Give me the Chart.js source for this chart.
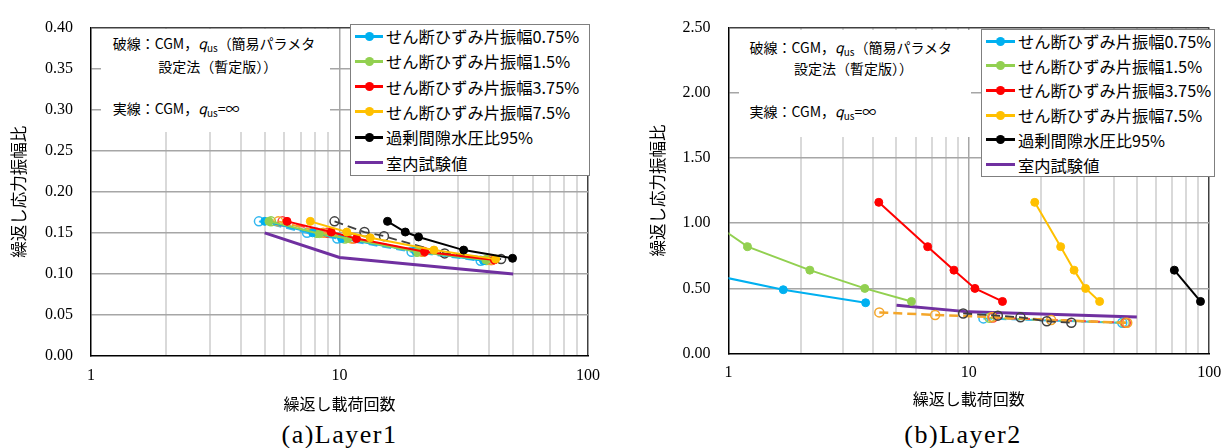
<!DOCTYPE html>
<html><head><meta charset="utf-8">
<script src="https://cdn.jsdelivr.net/npm/chart.js@4.4.1/dist/chart.umd.min.js"></script>
<style>
body{margin:0;background:#fff;width:1231px;height:448px;overflow:hidden;position:relative;font-family:"Noto Sans CJK JP","Noto Sans",sans-serif;color:#000;}
canvas{position:absolute;top:0;}
.note{position:absolute;background:#fff;z-index:2;}
.note div{position:absolute;white-space:nowrap;font-size:14px;line-height:14px;}
.note sub{font-size:10px;line-height:0;vertical-align:-3px;}
.note i{font-style:italic;}
.leg{position:absolute;background:#fff;border:1.5px solid #7f7f7f;box-sizing:border-box;z-index:2;}
.row{position:absolute;left:0;height:20px;display:flex;align-items:center;white-space:nowrap;font-size:16.3px;line-height:20px;}
.sym{position:relative;height:3px;margin-left:4px;margin-right:3px;flex:none;}
.sym i{position:absolute;top:-3px;width:9px;height:9px;border-radius:50%;}
.cap{position:absolute;font-family:"Liberation Serif",serif;font-size:26px;line-height:26px;letter-spacing:1.5px;white-space:nowrap;z-index:2;}
</style></head>
<body>
<canvas id="ca" width="610" height="420" style="left:0px"></canvas>
<canvas id="cb" width="611" height="420" style="left:620px"></canvas>

<div class="note" style="left:101px;top:29px;width:229px;height:103px">
  <div style="left:11.7px;top:6.7px">破線：CGM，<i>q</i><sub>us</sub>（簡易パラメタ</div>
  <div style="left:57.3px;top:30px">設定法（暫定版））</div>
  <div style="left:11.7px;top:72.3px">実線：CGM，<i>q</i><sub>us</sub>=∞</div>
</div>
<div class="note" style="left:739px;top:30px;width:232px;height:107px">
  <div style="left:10.6px;top:9.7px">破線：CGM，<i>q</i><sub>us</sub>（簡易パラメタ</div>
  <div style="left:55px;top:31.3px">設定法（暫定版））</div>
  <div style="left:10.6px;top:74px">実線：CGM，<i>q</i><sub>us</sub>=∞</div>
</div>
<div class="leg" id="lega" style="left:350px;top:24px;width:240px;height:152px"></div>
<div class="leg" id="legb" style="left:981px;top:29px;width:234px;height:148px"></div>
<div class="cap" id="capa" style="top:422px">(a)Layer1</div>
<div class="cap" id="capb" style="top:422px">(b)Layer2</div>

<script>
// ---------- axis ticks ----------
const X_TICKS = [1,2,3,4,5,6,7,8,9,10,20,30,40,50,60,70,80,90,100];
const X_LABELS = {1:'1', 10:'10', 100:'100'};
const L1_Y_TICKS = [0,0.05,0.10,0.15,0.20,0.25,0.30,0.35,0.40];
const L2_Y_TICKS = [0,0.50,1.00,1.50,2.00,2.50];
const X_TITLE = '繰返し載荷回数';
const Y_TITLE = '繰返し応力振幅比';

// ---------- legend ----------
const SERIES_NAMES = ['せん断ひずみ片振幅0.75%','せん断ひずみ片振幅1.5%','せん断ひずみ片振幅3.75%','せん断ひずみ片振幅7.5%','過剰間隙水圧比95%','室内試験値'];
const SERIES_COLORS = ['#00b0f0','#92d050','#ff0000','#ffc000','#000000','#7030a0'];
const DASH_COLORS = ['#33b8f0','#92d050','#ff4040','#f4a62a','#404040'];

// ---------- Layer1 : solid (CGM, qus=inf) ----------
const L1_S075_N = [5.0, 7.8, 10.2, 20.2, 38];
const L1_S075_R = [0.164, 0.150, 0.143, 0.128, 0.116];
const L1_S15_N  = [5.2, 8.3, 10.8, 20.6, 38.8];
const L1_S15_R  = [0.164, 0.149, 0.143, 0.127, 0.117];
const L1_S375_N = [6.15, 9.26, 11.7, 22.0, 42];
const L1_S375_R = [0.164, 0.151, 0.143, 0.127, 0.117];
const L1_S75_N  = [7.63, 10.7, 13.3, 24, 42.5];
const L1_S75_R  = [0.164, 0.151, 0.144, 0.129, 0.118];
const L1_S95_N  = [15.6, 18.4, 20.8, 31.6, 49.7];
const L1_S95_R  = [0.164, 0.151, 0.145, 0.129, 0.119];
// Layer1 : dashed (CGM, qus simplified)
const L1_D075_N = [4.74, 7.4, 9.8, 19.5, 37];
const L1_D075_R = [0.164, 0.150, 0.143, 0.127, 0.116];
const L1_D15_N  = [5.3, 8.1, 10.5, 20.5, 39];
const L1_D15_R  = [0.164, 0.150, 0.143, 0.127, 0.117];
const L1_D375_N = [5.9, 8.9, 11.4, 21.8, 41];
const L1_D375_R = [0.164, 0.150, 0.143, 0.127, 0.117];
const L1_D75_N  = [5.67, 8.6, 11.2, 21.5, 40.5];
const L1_D75_R  = [0.164, 0.150, 0.143, 0.127, 0.117];
const L1_D95_N  = [9.55, 12.6, 15.1, 26.5, 44.7];
const L1_D95_R  = [0.164, 0.151, 0.146, 0.125, 0.118];
// Layer1 : laboratory
const L1_LAB_N = [5, 10, 50];
const L1_LAB_R = [0.150, 0.120, 0.100];

// ---------- Layer2 : solid ----------
const L2_S075_N = [0.69, 1.69, 3.72];
const L2_S075_R = [0.64, 0.49, 0.39];
const L2_S15_N  = [0.65, 1.20, 2.18, 3.69, 5.77];
const L2_S15_R  = [1.16, 0.82, 0.64, 0.50, 0.40];
const L2_S375_N = [4.22, 6.74, 8.67, 10.6, 13.8];
const L2_S375_R = [1.16, 0.82, 0.64, 0.50, 0.40];
const L2_S75_N  = [18.8, 24.1, 27.4, 30.6, 35.0];
const L2_S75_R  = [1.16, 0.82, 0.64, 0.50, 0.40];
const L2_S95_N  = [71.6, 92];
const L2_S95_R  = [0.64, 0.40];
// Layer2 : dashed
const L2_D075_N = [11.5, 43.5];
const L2_D075_R = [0.270, 0.236];
const L2_D15_N  = [12.2, 44.5];
const L2_D15_R  = [0.274, 0.236];
const L2_D375_N = [12.6, 45.0];
const L2_D375_R = [0.276, 0.236];
const L2_D75_N  = [4.24, 7.24, 12.5, 22, 45.6];
const L2_D75_R  = [0.316, 0.296, 0.280, 0.258, 0.236];
const L2_D95_N  = [9.47, 13.2, 16.4, 21.1, 26.7];
const L2_D95_R  = [0.308, 0.291, 0.278, 0.248, 0.236];
// Layer2 : laboratory
const L2_LAB_N = [5, 10, 50];
const L2_LAB_R = [0.37, 0.32, 0.28];

function pts(n, r){ return n.map((v,i)=>({x:v, y:r[i]})); }
function solid(n, r, color, order){
  return {data:pts(n,r), showLine:true, borderColor:color, backgroundColor:color,
    borderWidth:2, pointRadius:4, pointBorderWidth:1, pointBackgroundColor:color, pointBorderColor:color, order:order};
}
function dashed(n, r, color, order, w){
  return {data:pts(n,r), showLine:true, borderColor:color, backgroundColor:'rgba(0,0,0,0)',
    borderWidth:w||2, borderDash:[9,5], pointRadius:4.5, pointBorderWidth:1.5,
    pointBackgroundColor:'rgba(0,0,0,0)', pointBorderColor:color, order:order};
}
function lab(n, r, order){
  return {data:pts(n,r), showLine:true, borderColor:SERIES_COLORS[5], borderWidth:3, pointRadius:0, order:order};
}

const C = SERIES_COLORS, D = DASH_COLORS;
const L1_DATASETS = [
  solid(L1_S95_N, L1_S95_R, C[4], 1),
  solid(L1_S75_N, L1_S75_R, C[3], 2),
  solid(L1_S375_N, L1_S375_R, C[2], 3),
  solid(L1_S15_N, L1_S15_R, C[1], 4),
  solid(L1_S075_N, L1_S075_R, C[0], 5),
  dashed(L1_D95_N, L1_D95_R, D[4], 6, 1.8),
  dashed(L1_D75_N, L1_D75_R, D[3], 7),
  dashed(L1_D375_N, L1_D375_R, D[2], 8),
  dashed(L1_D15_N, L1_D15_R, D[1], 9),
  dashed(L1_D075_N, L1_D075_R, D[0], 10),
  lab(L1_LAB_N, L1_LAB_R, 11)
];
const L2_DATASETS = [
  solid(L2_S95_N, L2_S95_R, C[4], 1),
  solid(L2_S75_N, L2_S75_R, C[3], 2),
  solid(L2_S375_N, L2_S375_R, C[2], 3),
  solid(L2_S15_N, L2_S15_R, C[1], 4),
  solid(L2_S075_N, L2_S075_R, C[0], 5),
  dashed(L2_D95_N, L2_D95_R, D[4], 6, 1.8),
  dashed(L2_D75_N, L2_D75_R, D[3], 7, 2.5),
  dashed(L2_D375_N, L2_D375_R, D[2], 8),
  dashed(L2_D15_N, L2_D15_R, D[1], 9),
  dashed(L2_D075_N, L2_D075_R, D[0], 10),
  lab(L2_LAB_N, L2_LAB_R, 11)
];

Chart.defaults.font.family = '"Noto Sans CJK JP","Noto Sans",sans-serif';

function build(id, ds, g){
  return new Chart(document.getElementById(id), {
    type:'scatter',
    data:{datasets:ds},
    options:{
      responsive:false, animation:false, devicePixelRatio:1,
      layout:{padding:{left:0, top:g.top, right:g.right, bottom:0}},
      plugins:{legend:{display:false}, tooltip:{enabled:false}},
      scales:{
        x:{type:'logarithmic', min:1, max:100,
          afterBuildTicks:s=>{ s.ticks = X_TICKS.map(v=>({value:v})); },
          afterFit:s=>{ s.height = g.xh; },
          ticks:{autoSkip:false, maxRotation:0, minRotation:0, padding:g.xtp, color:'#000',
            font:{family:'"Liberation Serif",serif', size:16},
            callback:v=> (X_LABELS[v] !== undefined ? X_LABELS[v] : '')},
          grid:{drawTicks:false,
            color:c=>{ const v=c.tick.value; if(v===100) return '#404040'; if(v===10) return '#a6a6a6'; if(v===1) return 'rgba(0,0,0,0)'; return '#d9d9d9'; },
            lineWidth:c=>{ const v=c.tick.value; return (v===10||v===100)?1.5:2; }},
          border:{color:'#000', width:1.5},
          title:{display:true, text:X_TITLE, color:'#000', font:{size:16}, padding:{top:0, bottom:g.xtb}}
        },
        y:{type:'linear', min:0, max:g.ymax,
          afterBuildTicks:s=>{ s.ticks = g.yticks.map(v=>({value:v})); },
          afterFit:s=>{ s.width = g.yw; },
          ticks:{padding:18, color:'#000', font:{family:'"Liberation Serif",serif', size:16},
            callback:v=>Number(v).toFixed(2)},
          grid:{drawTicks:false,
            color:c=>{ const v=c.tick.value; if(Math.abs(v-g.ymax)<1e-9) return '#404040'; if(v===0) return 'rgba(0,0,0,0)'; return '#a6a6a6'; },
            lineWidth:1.5},
          border:{color:'#000', width:1.5},
          title:{display:true, text:Y_TITLE, color:'#000', font:{size:16.5}, padding:{top:g.ytp, bottom:0}}
        }
      }
    }
  });
}

const chA = build('ca', L1_DATASETS, {top:20, right:20, xh:64, yw:91, xtp:10, xtb:6.4, ytp:8.4, ymax:0.40, yticks:L1_Y_TICKS});
const chB = build('cb', L2_DATASETS, {top:22, right:14.3, xh:66.4, yw:108.5, xtp:9.8, xtb:11.4, ytp:28.2, ymax:2.50, yticks:L2_Y_TICKS});

// legends
function legend(id, rowTop, rowStep, symW){
  const box = document.getElementById(id);
  SERIES_NAMES.forEach((name,i)=>{
    const row = document.createElement('div');
    row.className = 'row';
    row.style.top = (rowTop + i*rowStep - 10) + 'px';
    const sym = document.createElement('span');
    sym.className = 'sym';
    sym.style.width = symW + 'px';
    sym.style.background = SERIES_COLORS[i];
    if (i === 5) { sym.style.height = '3.5px'; }
    else {
      const dot = document.createElement('i');
      dot.style.background = SERIES_COLORS[i];
      dot.style.left = (symW/2 - 4.5) + 'px';
      sym.appendChild(dot);
    }
    row.appendChild(sym);
    const t = document.createElement('span');
    t.textContent = name;
    row.appendChild(t);
    box.appendChild(row);
  });
}
legend('lega', 11, 25.3, 28);
legend('legb', 11, 24.7, 29);

// captions centred under the plot areas
function centerCap(id, ch, offset){
  const el = document.getElementById(id);
  const a = ch.chartArea;
  const cx = offset + (a.left + a.right)/2;
  el.style.left = (cx - el.offsetWidth/2) + 'px';
}
centerCap('capa', chA, 0);
centerCap('capb', chB, 620 - 6);
</script>
</body></html>
